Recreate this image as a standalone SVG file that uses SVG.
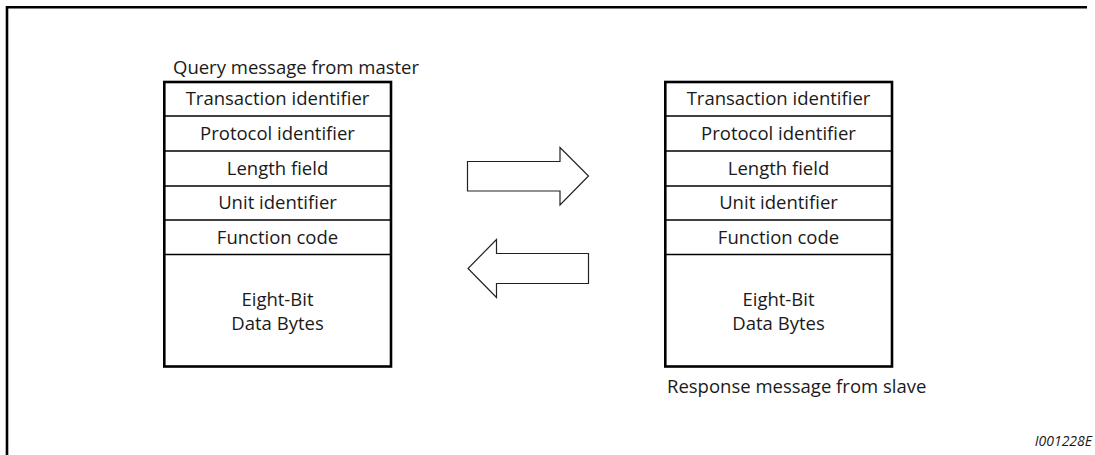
<svg xmlns="http://www.w3.org/2000/svg" width="1095" height="455" viewBox="0 0 1095 455">
<style>
.t{font-family:"Open Sans","Liberation Sans",sans-serif;font-size:18.5px;fill:#1a1a1a;text-anchor:middle}
.l{font-family:"Open Sans","Liberation Sans",sans-serif;font-size:18.5px;fill:#1a1a1a}
.box{fill:#fff;stroke:#000;stroke-width:2.6}
.div{stroke:#000;stroke-width:1.3}
.arr{fill:#fff;stroke:#222;stroke-width:1.2}
.id{font-family:"Open Sans","Liberation Sans",sans-serif;font-size:14px;font-style:italic;fill:#1a1a1a;text-anchor:end}
</style>
<rect width="1095" height="455" fill="#fff"/>
<path d="M7,455 V7.3 H1087" fill="none" stroke="#000" stroke-width="2.6"/>
<g id="query">
<text class="l" x="173" y="74">Query message from master</text>
<rect class="box" x="164.3" y="82" width="226.7" height="284.5"/>
<line class="div" x1="164" y1="116" x2="391" y2="116"/>
<line class="div" x1="164" y1="151" x2="391" y2="151"/>
<line class="div" x1="164" y1="186" x2="391" y2="186"/>
<line class="div" x1="164" y1="220" x2="391" y2="220"/>
<line class="div" x1="164" y1="254.5" x2="391" y2="254.5"/>
<text class="t" x="277.5" y="104.5">Transaction identifier</text>
<text class="t" x="277.5" y="139.5">Protocol identifier</text>
<text class="t" x="277.5" y="174.5">Length field</text>
<text class="t" x="277.5" y="209">Unit identifier</text>
<text class="t" x="277.5" y="243.5">Function code</text>
<text class="t" x="277.5" y="306">Eight-Bit</text>
<text class="t" x="277.5" y="330">Data Bytes</text>
</g>
<g id="response">
<rect class="box" x="665.3" y="82" width="226.7" height="284.5"/>
<line class="div" x1="665" y1="116" x2="892" y2="116"/>
<line class="div" x1="665" y1="151" x2="892" y2="151"/>
<line class="div" x1="665" y1="186" x2="892" y2="186"/>
<line class="div" x1="665" y1="220" x2="892" y2="220"/>
<line class="div" x1="665" y1="254.5" x2="892" y2="254.5"/>
<text class="t" x="778.5" y="104.5">Transaction identifier</text>
<text class="t" x="778.5" y="139.5">Protocol identifier</text>
<text class="t" x="778.5" y="174.5">Length field</text>
<text class="t" x="778.5" y="209">Unit identifier</text>
<text class="t" x="778.5" y="243.5">Function code</text>
<text class="t" x="778.5" y="306">Eight-Bit</text>
<text class="t" x="778.5" y="330">Data Bytes</text>
<text class="l" x="667" y="392.5">Response message from slave</text>
</g>
<g id="connectors">
<path class="arr" d="M467.5,161.5 L560,161.5 L560,147.5 L588.5,176 L560,205 L560,191 L467.5,191 Z"/>
<path class="arr" d="M588.5,253.5 L496.5,253.5 L496.5,239.5 L468,268.5 L496.5,297.5 L496.5,283.5 L588.5,283.5 Z"/>
</g>
<text class="id" x="1092" y="446">I001228E</text>
</svg>
